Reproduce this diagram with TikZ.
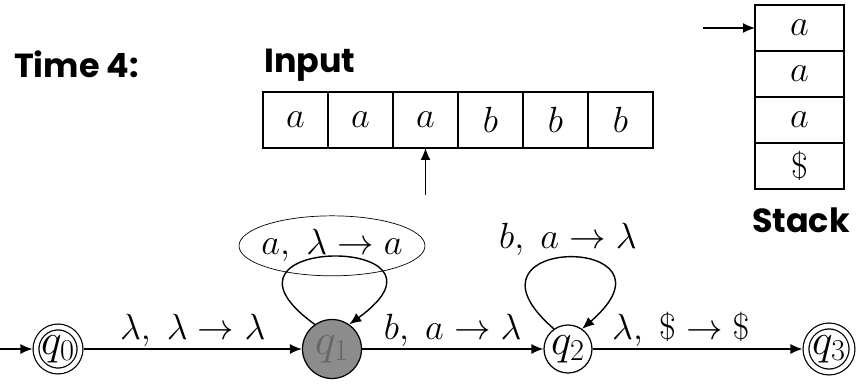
\documentclass[tikz,border=0pt]{standalone}
\usepackage{fontspec}
\usepackage{amsmath}
\newfontfamily\headfont{Poppins}
\usetikzlibrary{arrows.meta, positioning, shapes.geometric}

\begin{document}
\begin{tikzpicture}[
    every node/.style={font=\fontsize{20}{24}\selectfont},
    >={Latex[length=2.4mm, width=2mm]},
    title/.style={font=\headfont\bfseries\fontsize{19}{23}\selectfont},
    cell/.style={draw, line width=0.6pt, outer sep=0pt, inner sep=0pt,
                 minimum width=1.3cm, minimum height=1.12cm},
    stackcell/.style={cell, minimum width=1.78cm, minimum height=0.92cm},
    statenode/.style={circle, draw, line width=0.7pt, inner sep=-6pt,
                      minimum size=0.96cm, font=\fontsize{25}{27}\selectfont},
    finalstate/.style={double, double distance=2.6pt, outer sep=2pt},
    lab/.style={font=\fontsize{21}{25}\selectfont, above, inner sep=1pt},
    trans/.style={->, line width=0.8pt},
]
\useasboundingbox (0,0) rectangle (17.32,-7.8);

% --- headings ---
\node[title, anchor=base west] (time)  at (0.16,-1.56) {Time 4:};
\node[title, anchor=base west] (inlab) at (5.16,-1.46) {Input};

% --- input tape (head under the third cell) ---
\node[cell] (t1) at (5.91,-2.4) {$a$};
\node[cell, right=0pt of t1] (t2) {$a$};
\node[cell, right=0pt of t2] (t3) {$a$};
\node[cell, right=0pt of t3] (t4) {$b$};
\node[cell, right=0pt of t4] (t5) {$b$};
\node[cell, right=0pt of t5] (t6) {$b$};

\coordinate[below=0.94cm of t3.south] (head);
\draw[trans] (head) -- (t3.south);

% --- stack, top cell first ---
\node[stackcell] (s1) at (15.99,-0.56) {$a$};
\node[stackcell, below=0pt of s1] (s2) {$a$};
\node[stackcell, below=0pt of s2] (s3) {$a$};
\node[stackcell, below=0pt of s3] (s4) {$\$$};

\coordinate (top) at (14.06,-0.56);
\draw[trans] (top) -- (s1.west);

\node[title, anchor=base] (stlab) at (16.02,-4.66) {Stack};

% --- states ---
\coordinate (start) at (0,-6.98);
\node[statenode, finalstate, minimum size=0.88cm] (q0) at (1.16,-6.98) {$q_0$};
\node[statenode, fill=black!45, text=black!60, minimum size=1.18cm]
    (q1) at (6.64,-6.98) {$q_1$};
\node[statenode] (q2) at (11.36,-6.98) {$q_2$};
\node[statenode, finalstate, minimum size=0.92cm] (q3) at (16.58,-6.98) {$q_3$};

% --- transitions ---
\draw[trans] (start) -- (q0);
\draw[trans] (q0) -- node[lab] {$\lambda,\;\lambda\to\lambda$} (q1);
\draw[trans] (q1) -- node[lab] {$b,\;a\to\lambda$} (q2);
\draw[trans] (q2) -- node[lab, pos=0.42] {$\lambda,\;\$\to\$$} (q3);

% self loops: push on q1, pop on q2
\draw[trans] (q1.125) .. controls +(-2.5,1.8) and +(2.5,1.8) .. (q1.55)
    node[pos=0.5, ellipse, draw, thin, yshift=0.22cm, inner sep=-4pt,
         minimum width=3.72cm, minimum height=1.2cm] (push)
    {$a,\;\lambda\to a$};
\draw[trans] (q2.125) .. controls +(-2.2,1.9) and +(2.2,1.9) .. (q2.55)
    node[lab, pos=0.5] (pop) {$b,\;a\to\lambda$};
\end{tikzpicture}
\end{document}
